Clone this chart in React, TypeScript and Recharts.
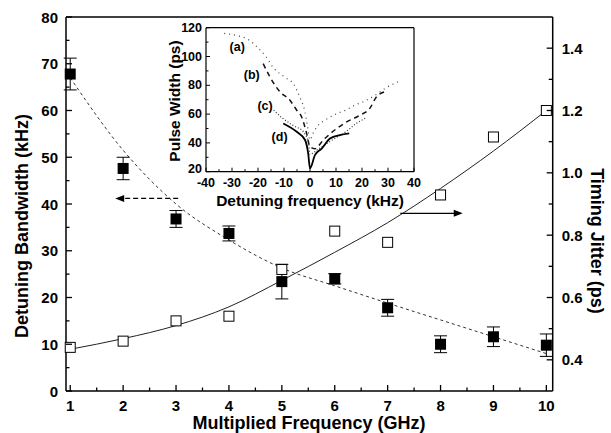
import React from 'react';
import {
  ComposedChart,
  LineChart,
  Line,
  Scatter,
  XAxis,
  YAxis,
  ErrorBar,
  ReferenceLine,
  ReferenceDot,
} from 'recharts';

// main chart values
const freqGHz = [1, 2, 3, 4, 5, 6, 7, 8, 9, 10];
const bandwidthKHz = [67.8, 47.6, 36.8, 33.7, 23.4, 24.0, 17.8, 10.0, 11.6, 9.8];
const bandwidthErr = [3.4, 2.4, 1.8, 1.6, 3.7, 1.1, 1.8, 1.8, 2.1, 2.4];
const jitterPs = [0.44, 0.46, 0.525, 0.54, 0.69, 0.813, 0.777, 0.929, 1.115, 1.2];
const bandwidthFit = [67, 51.5, 40, 32.3, 26.3, 22.5, 18.8, 15.2, 11.6, 8];
const jitterFit = [0.434, 0.468, 0.51, 0.57, 0.655, 0.745, 0.84, 0.95, 1.07, 1.2];

const xTicks = [1, 2, 3, 4, 5, 6, 7, 8, 9, 10];
const xMinor = [1.5, 2.5, 3.5, 4.5, 5.5, 6.5, 7.5, 8.5, 9.5];
const leftTicks = [0, 10, 20, 30, 40, 50, 60, 70, 80];
const leftMinor = [5, 15, 25, 35, 45, 55, 65, 75];
const rightTicks = [0.4, 0.6, 0.8, 1.0, 1.2, 1.4];
const rightMinor = [0.5, 0.7, 0.9, 1.1, 1.3];

// inset: pulse width vs detuning, curves (a)-(d)
const curveAf = [-33, -28, -24, -20, -17, -14, -10, -6, -4, -2, -1, 0, 1, 3, 6, 10, 14, 17, 21, 25, 29, 34];
const curveApw = [116, 114.5, 112, 106, 100, 92, 86, 80, 72, 62, 52, 42, 46, 52, 56, 60, 63, 66, 69, 73, 78, 82.5];
const curveBf = [-18, -15.4, -11.5, -7.7, -5.1, -3.2, -1.3, 0, 1.9, 5.1, 10.3, 14.1, 19.2, 23, 25.6, 28.8];
const curveBpw = [95, 85.8, 75.4, 69.6, 62.7, 58, 46.6, 37.3, 36, 42, 50, 54.6, 59.2, 64, 72, 75.6];
const curveCf = [-14, -10.8, -6.4, -2.6, -0.6, 0, 2.6, 5.1, 9, 14, 17.9, 21.8];
const curveCpw = [62.7, 57.5, 52, 47.8, 40, 32, 35, 38, 42.5, 48, 53.6, 57.6];
const curveDf = [-10.3, -5.1, -1.9, -0.7, 0, 1.9, 4.5, 7.7, 11.5, 15.1];
const curveDpw = [53.5, 47.7, 42, 32.7, 22.4, 31.5, 36, 43, 45.4, 46.6];

const insetXTicks = [-40, -30, -20, -10, 0, 10, 20, 30, 40];
const insetXMinor = [-35, -25, -15, -5, 5, 15, 25, 35];
const insetYTicks = [20, 40, 60, 80, 100, 120];
const insetYMinor = [30, 50, 70, 90, 110];

const FONT = '"Liberation Sans", Arial, Helvetica, sans-serif';

const mainData = freqGHz.map((f, i) => ({
  f,
  bw: bandwidthKHz[i],
  err: bandwidthErr[i],
  jit: jitterPs[i],
  bwFit: bandwidthFit[i],
  jitFit: jitterFit[i],
}));

const toPts = (fs: number[], pws: number[]) => fs.map((f, i) => ({ f, pw: pws[i] }));
const curveA = toPts(curveAf, curveApw);
const curveB = toPts(curveBf, curveBpw);
const curveC = toPts(curveCf, curveCpw);
const curveD = toPts(curveDf, curveDpw);

type TickOpts = {
  side: 'bottom' | 'left' | 'right';
  major: number[];
  fmt: (v: number) => string;
  majorLen: number;
  minorLen: number;
  fontSize: number;
  gap: number;
  sw: number;
  lowest?: number; // label nudged up a little so it clears the x labels
};

// ticks drawn inward, labels outside
const makeTick = (o: TickOpts) => (props: any) => {
  const { x, y, payload } = props;
  const v = payload.value;
  const isMajor = o.major.some((m) => Math.abs(m - v) < 1e-6);
  const len = isMajor ? o.majorLen : o.minorLen;
  const ts = { fontFamily: FONT, fontWeight: 700, fontSize: o.fontSize, fill: '#000' };
  if (o.side === 'bottom') {
    return (
      <g>
        <line x1={x} x2={x} y1={y} y2={y - len} stroke="#000" strokeWidth={o.sw} />
        {isMajor && (
          <text x={x} y={y + o.gap} textAnchor="middle" dominantBaseline="central" style={ts}>
            {o.fmt(v)}
          </text>
        )}
      </g>
    );
  }
  if (o.side === 'left') {
    const dy = o.lowest !== undefined && v === o.lowest ? -3 : 0;
    return (
      <g>
        <line x1={x} x2={x + len} y1={y} y2={y} stroke="#000" strokeWidth={o.sw} />
        {isMajor && (
          <text x={x - o.gap} y={y + dy} textAnchor="end" dominantBaseline="central" style={ts}>
            {o.fmt(v)}
          </text>
        )}
      </g>
    );
  }
  return (
    <g>
      <line x1={x} x2={x - len} y1={y} y2={y} stroke="#000" strokeWidth={o.sw} />
      {isMajor && (
        <text x={x + o.gap} y={y} textAnchor="start" dominantBaseline="central" style={ts}>
          {o.fmt(v)}
        </text>
      )}
    </g>
  );
};

const titleStyle = { fontFamily: FONT, fontWeight: 700, fontSize: 18, fill: '#000' };
const insetTitleStyle = { fontFamily: FONT, fontWeight: 700, fontSize: 15.5, fill: '#000' };

const filledSquare = (p: any) => (
  <rect x={p.cx - 5.5} y={p.cy - 5.5} width={11} height={11} fill="#000" />
);
const openSquare = (p: any) => (
  <rect x={p.cx - 5} y={p.cy - 5} width={10} height={10} fill="#fff" stroke="#000" strokeWidth={1} />
);

const arrowLeft = (p: any) => (
  <polygon points={`${p.cx},${p.cy} ${p.cx + 9},${p.cy - 3.5} ${p.cx + 9},${p.cy + 3.5}`} fill="#000" />
);
const arrowRight = (p: any) => (
  <polygon points={`${p.cx},${p.cy} ${p.cx - 9},${p.cy - 3.5} ${p.cx - 9},${p.cy + 3.5}`} fill="#000" />
);

const curveTag = (t: string) => (p: any) => (
  <text x={p.cx} y={p.cy} textAnchor="middle" dominantBaseline="central"
    style={{ fontFamily: FONT, fontWeight: 700, fontSize: 12.5, fill: '#000' }}>
    {t}
  </text>
);

const App = () => {
  return (
    <div style={{ position: 'absolute', left: 0, top: 0, width: 611, height: 433, background: '#fff' }}>
      {/* main chart */}
      <div style={{ position: 'absolute', left: 0, top: 0 }}>
        <ComposedChart width={611} height={433} data={mainData} margin={{ top: 17, right: 0, bottom: 0, left: 0 }}>
          <XAxis
            dataKey="f"
            type="number"
            domain={[0.92, 10.12]}
            ticks={[...xTicks, ...xMinor]}
            interval={0}
            height={42}
            tickSize={0}
            tickMargin={0}
            tickLine={false}
            axisLine={{ stroke: '#000', strokeWidth: 1.5 }}
            tick={makeTick({ side: 'bottom', major: xTicks, fmt: (v) => String(v), majorLen: 6, minorLen: 3.5, fontSize: 15, gap: 14, sw: 1.3 })}
            label={() => (
              <text x={309} y={423} textAnchor="middle" dominantBaseline="central" style={titleStyle}>
                Multiplied Frequency (GHz)
              </text>
            )}
          />
          <YAxis
            yAxisId="left"
            type="number"
            domain={[0, 80]}
            ticks={[...leftTicks, ...leftMinor]}
            interval={0}
            width={66}
            tickSize={0}
            tickMargin={0}
            tickLine={false}
            axisLine={{ stroke: '#000', strokeWidth: 1.5 }}
            tick={makeTick({ side: 'left', major: leftTicks, fmt: (v) => String(v), majorLen: 6, minorLen: 3.5, fontSize: 15, gap: 8, sw: 1.3 })}
            label={() => (
              <text x={22} y={226} textAnchor="middle" dominantBaseline="central" transform="rotate(-90 22 226)" style={titleStyle}>
                Detuning Bandwidth (kHz)
              </text>
            )}
          />
          <YAxis
            yAxisId="right"
            orientation="right"
            type="number"
            domain={[0.3, 1.5]}
            ticks={[...rightTicks, ...rightMinor]}
            interval={0}
            width={58.3}
            tickSize={0}
            tickMargin={0}
            tickLine={false}
            axisLine={{ stroke: '#000', strokeWidth: 1.5 }}
            tick={makeTick({ side: 'right', major: rightTicks, fmt: (v) => v.toFixed(1), majorLen: 6, minorLen: 4, fontSize: 15, gap: 9, sw: 1.3 })}
            label={() => (
              <text x={597} y={241} textAnchor="middle" dominantBaseline="central" transform="rotate(90 597 241)" style={titleStyle}>
                Timing Jitter (ps)
              </text>
            )}
          />
          <ReferenceLine yAxisId="left" y={80} stroke="#000" strokeWidth={1.5} />

          <Line yAxisId="left" dataKey="bwFit" type="monotone" stroke="#333" strokeWidth={1} strokeDasharray="3 3" dot={false} isAnimationActive={false} />
          <Line yAxisId="right" dataKey="jitFit" type="monotone" stroke="#222" strokeWidth={1} dot={false} isAnimationActive={false} />

          <Scatter yAxisId="left" dataKey="bw" shape={filledSquare} isAnimationActive={false}>
            <ErrorBar dataKey="err" direction="y" width={6.5} stroke="#000" strokeWidth={1} />
          </Scatter>
          <Scatter yAxisId="right" dataKey="jit" shape={openSquare} isAnimationActive={false} />

          {/* arrows pointing at each axis */}
          <ReferenceLine yAxisId="left" segment={[{ x: 3.04, y: 41.2 }, { x: 1.97, y: 41.2 }]} stroke="#000" strokeWidth={1.3} strokeDasharray="5 3" />
          <ReferenceDot yAxisId="left" x={1.85} y={41.2} r={0} shape={arrowLeft} />
          <ReferenceLine yAxisId="right" segment={[{ x: 7.24, y: 0.87 }, { x: 8.3, y: 0.87 }]} stroke="#000" strokeWidth={1.3} />
          <ReferenceDot yAxisId="right" x={8.42} y={0.87} r={0} shape={arrowRight} />
        </ComposedChart>
      </div>

      {/* inset */}
      <div style={{ position: 'absolute', left: 0, top: 0, pointerEvents: 'none' }}>
        <LineChart width={611} height={433} margin={{ top: 27.7, right: 197, bottom: 231.3, left: 166 }}>
          <XAxis
            dataKey="f"
            type="number"
            domain={[-40, 40]}
            ticks={[...insetXTicks, ...insetXMinor]}
            interval={0}
            height={30}
            tickSize={0}
            tickMargin={0}
            tickLine={false}
            axisLine={{ stroke: '#000', strokeWidth: 1.2 }}
            tick={makeTick({ side: 'bottom', major: insetXTicks, fmt: (v) => String(v), majorLen: 4, minorLen: 2.5, fontSize: 12.5, gap: 11.5, sw: 1 })}
            label={() => (
              <text x={310} y={200} textAnchor="middle" dominantBaseline="central" style={insetTitleStyle}>
                Detuning frequency (kHz)
              </text>
            )}
          />
          <YAxis
            type="number"
            domain={[20, 120]}
            ticks={[...insetYTicks, ...insetYMinor]}
            interval={0}
            width={40}
            tickSize={0}
            tickMargin={0}
            tickLine={false}
            axisLine={{ stroke: '#000', strokeWidth: 1.2 }}
            tick={makeTick({ side: 'left', major: insetYTicks, fmt: (v) => String(v), majorLen: 4, minorLen: 2.5, fontSize: 12.5, gap: 4, sw: 1, lowest: 20 })}
            label={() => (
              <text x={174} y={101} textAnchor="middle" dominantBaseline="central" transform="rotate(-90 174 101)" style={insetTitleStyle}>
                Pulse Width (ps)
              </text>
            )}
          />
          <ReferenceLine y={120} stroke="#000" strokeWidth={1.2} />
          <ReferenceLine x={40} stroke="#000" strokeWidth={1.2} />

          <Line data={curveA} dataKey="pw" type="monotone" stroke="#444" strokeWidth={1.2} strokeDasharray="1 4" dot={false} isAnimationActive={false} />
          <Line data={curveB} dataKey="pw" type="monotone" stroke="#111" strokeWidth={1.5} strokeDasharray="5 4" dot={false} isAnimationActive={false} />
          <Line data={curveC} dataKey="pw" type="monotone" stroke="#333" strokeWidth={1.2} strokeDasharray="1 2" dot={false} isAnimationActive={false} />
          <Line data={curveD} dataKey="pw" type="monotone" stroke="#000" strokeWidth={1.8} dot={false} isAnimationActive={false} />

          <ReferenceDot x={-28} y={106.6} r={0} shape={curveTag('(a)')} />
          <ReferenceDot x={-22.4} y={86.9} r={0} shape={curveTag('(b)')} />
          <ReferenceDot x={-17.3} y={65.4} r={0} shape={curveTag('(c)')} />
          <ReferenceDot x={-11.7} y={44.2} r={0} shape={curveTag('(d)')} />
        </LineChart>
      </div>
    </div>
  );
};

export default App;
